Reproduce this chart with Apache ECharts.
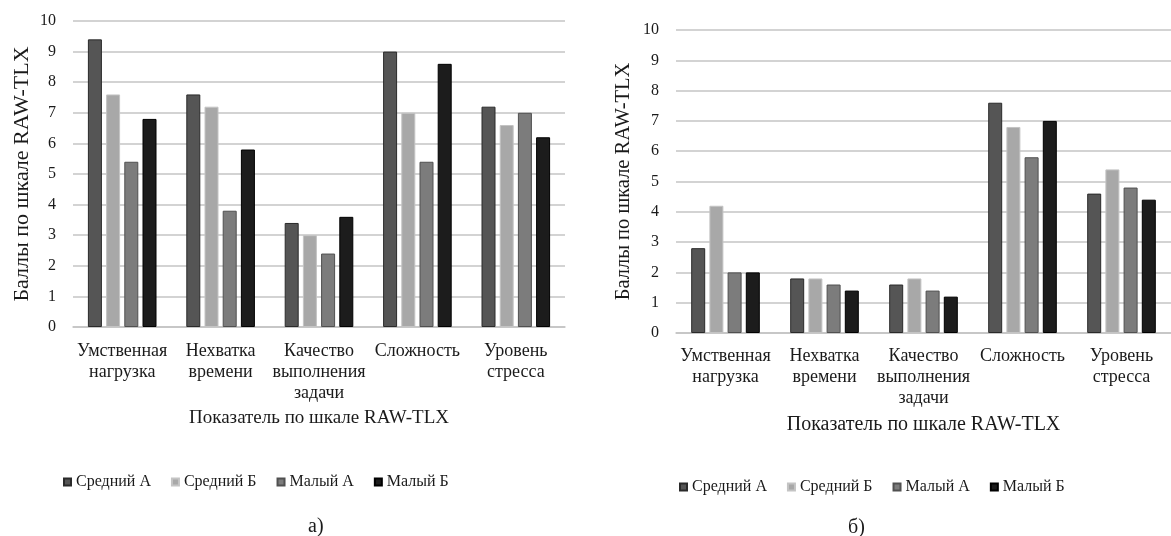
<!DOCTYPE html>
<html>
<head>
<meta charset="utf-8">
<script src="https://cdn.jsdelivr.net/npm/echarts@6/dist/echarts.min.js"></script>
<style>
  html, body { margin: 0; padding: 0; background: #fff; }
  #chart { width: 1171px; height: 536px; }
</style>
</head>
<body>
<div id="chart"></div>
<script>
// категории по оси X
const categories = ['Умственная\nнагрузка', 'Нехватка\nвремени', 'Качество\nвыполнения\nзадачи', 'Сложность', 'Уровень\nстресса'];
const seriesNames = ['Средний А', 'Средний Б', 'Малый А', 'Малый Б'];

// а)
const aSredniyA = [9.4, 7.6, 3.4, 9.0, 7.2];
const aSredniyB = [7.6, 7.2, 3.0, 7.0, 6.6];
const aMalyiA = [5.4, 3.8, 2.4, 5.4, 7.0];
const aMalyiB = [6.8, 5.8, 3.6, 8.6, 6.2];

// б)
const bSredniyA = [2.8, 1.8, 1.6, 7.6, 4.6];
const bSredniyB = [4.2, 1.8, 1.8, 6.8, 5.4];
const bMalyiA = [2.0, 1.6, 1.4, 5.8, 4.8];
const bMalyiB = [2.0, 1.4, 1.2, 7.0, 4.4];

const font = 'Liberation Serif';
// цвета столбцов и рамок
const fills = ['#555555', '#a8a8a8', '#7c7c7c', '#1c1c1c'];
const borders = ['#2a2a2a', '#c4c4c4', '#505050', '#000000'];

const chart = echarts.init(document.getElementById('chart'));

function xAxisOf(gridIndex, margin, nameGap, nameSize) {
  return {
    type: 'category',
    gridIndex: gridIndex,
    data: categories,
    axisTick: { show: false },
    axisLine: { lineStyle: { color: '#c4c4c4', width: 1.5 } },
    axisLabel: { color: '#1a1a1a', fontFamily: font, fontSize: 18, lineHeight: 21, margin: margin, interval: 0 },
    name: 'Показатель по шкале RAW-TLX',
    nameLocation: 'middle',
    nameGap: nameGap,
    nameTextStyle: { color: '#1a1a1a', fontFamily: font, fontSize: nameSize }
  };
}

function yAxisOf(gridIndex, gap, nameSize) {
  return {
    type: 'value',
    gridIndex: gridIndex,
    min: 0,
    max: 10,
    interval: 1,
    axisLine: { show: false },
    axisTick: { show: false },
    axisLabel: { color: '#1a1a1a', fontFamily: font, fontSize: 16, margin: 17 },
    splitLine: { lineStyle: { color: '#c4c4c4', width: 1.5 } },
    name: 'Баллы по шкале RAW-TLX',
    nameLocation: 'middle',
    nameGap: gap,
    nameTextStyle: { color: '#1a1a1a', fontFamily: font, fontSize: nameSize }
  };
}

function barSeries(name, idx, data, axisIndex) {
  return {
    name: name,
    type: 'bar',
    xAxisIndex: axisIndex,
    yAxisIndex: axisIndex,
    data: data,
    barWidth: 14,
    barGap: '30%',
    itemStyle: { color: fills[idx], borderColor: borders[idx], borderWidth: 1 }
  };
}

const legendStyle = {
  itemWidth: 7,
  itemHeight: 7,
  itemGap: 20,
  icon: 'rect',
  textStyle: { color: '#1a1a1a', fontFamily: font, fontSize: 16 },
  data: seriesNames
};

const option = {
  animation: false,
  color: fills,
  title: [
    { text: 'а)', left: 303, top: 512, textStyle: { fontFamily: font, fontSize: 20, fontWeight: 'normal', color: '#1a1a1a' } },
    { text: 'б)', left: 843, top: 513, textStyle: { fontFamily: font, fontSize: 20, fontWeight: 'normal', color: '#1a1a1a' } }
  ],
  legend: [
    Object.assign({ left: 58, top: 469 }, legendStyle),
    Object.assign({ left: 674, top: 474 }, legendStyle)
  ],
  grid: [
    { left: 73, right: 606, top: 21, bottom: 209 },
    { left: 676, right: -7, top: 30, bottom: 203 }
  ],
  xAxis: [xAxisOf(0, 14, 81, 19), xAxisOf(1, 13, 82, 20)],
  yAxis: [yAxisOf(0, 40, 22), yAxisOf(1, 42, 20.5)],
  series: [
    barSeries(seriesNames[0], 0, aSredniyA, 0),
    barSeries(seriesNames[1], 1, aSredniyB, 0),
    barSeries(seriesNames[2], 2, aMalyiA, 0),
    barSeries(seriesNames[3], 3, aMalyiB, 0),
    barSeries(seriesNames[0], 0, bSredniyA, 1),
    barSeries(seriesNames[1], 1, bSredniyB, 1),
    barSeries(seriesNames[2], 2, bMalyiA, 1),
    barSeries(seriesNames[3], 3, bMalyiB, 1)
  ]
};

chart.setOption(option);
</script>
</body>
</html>
